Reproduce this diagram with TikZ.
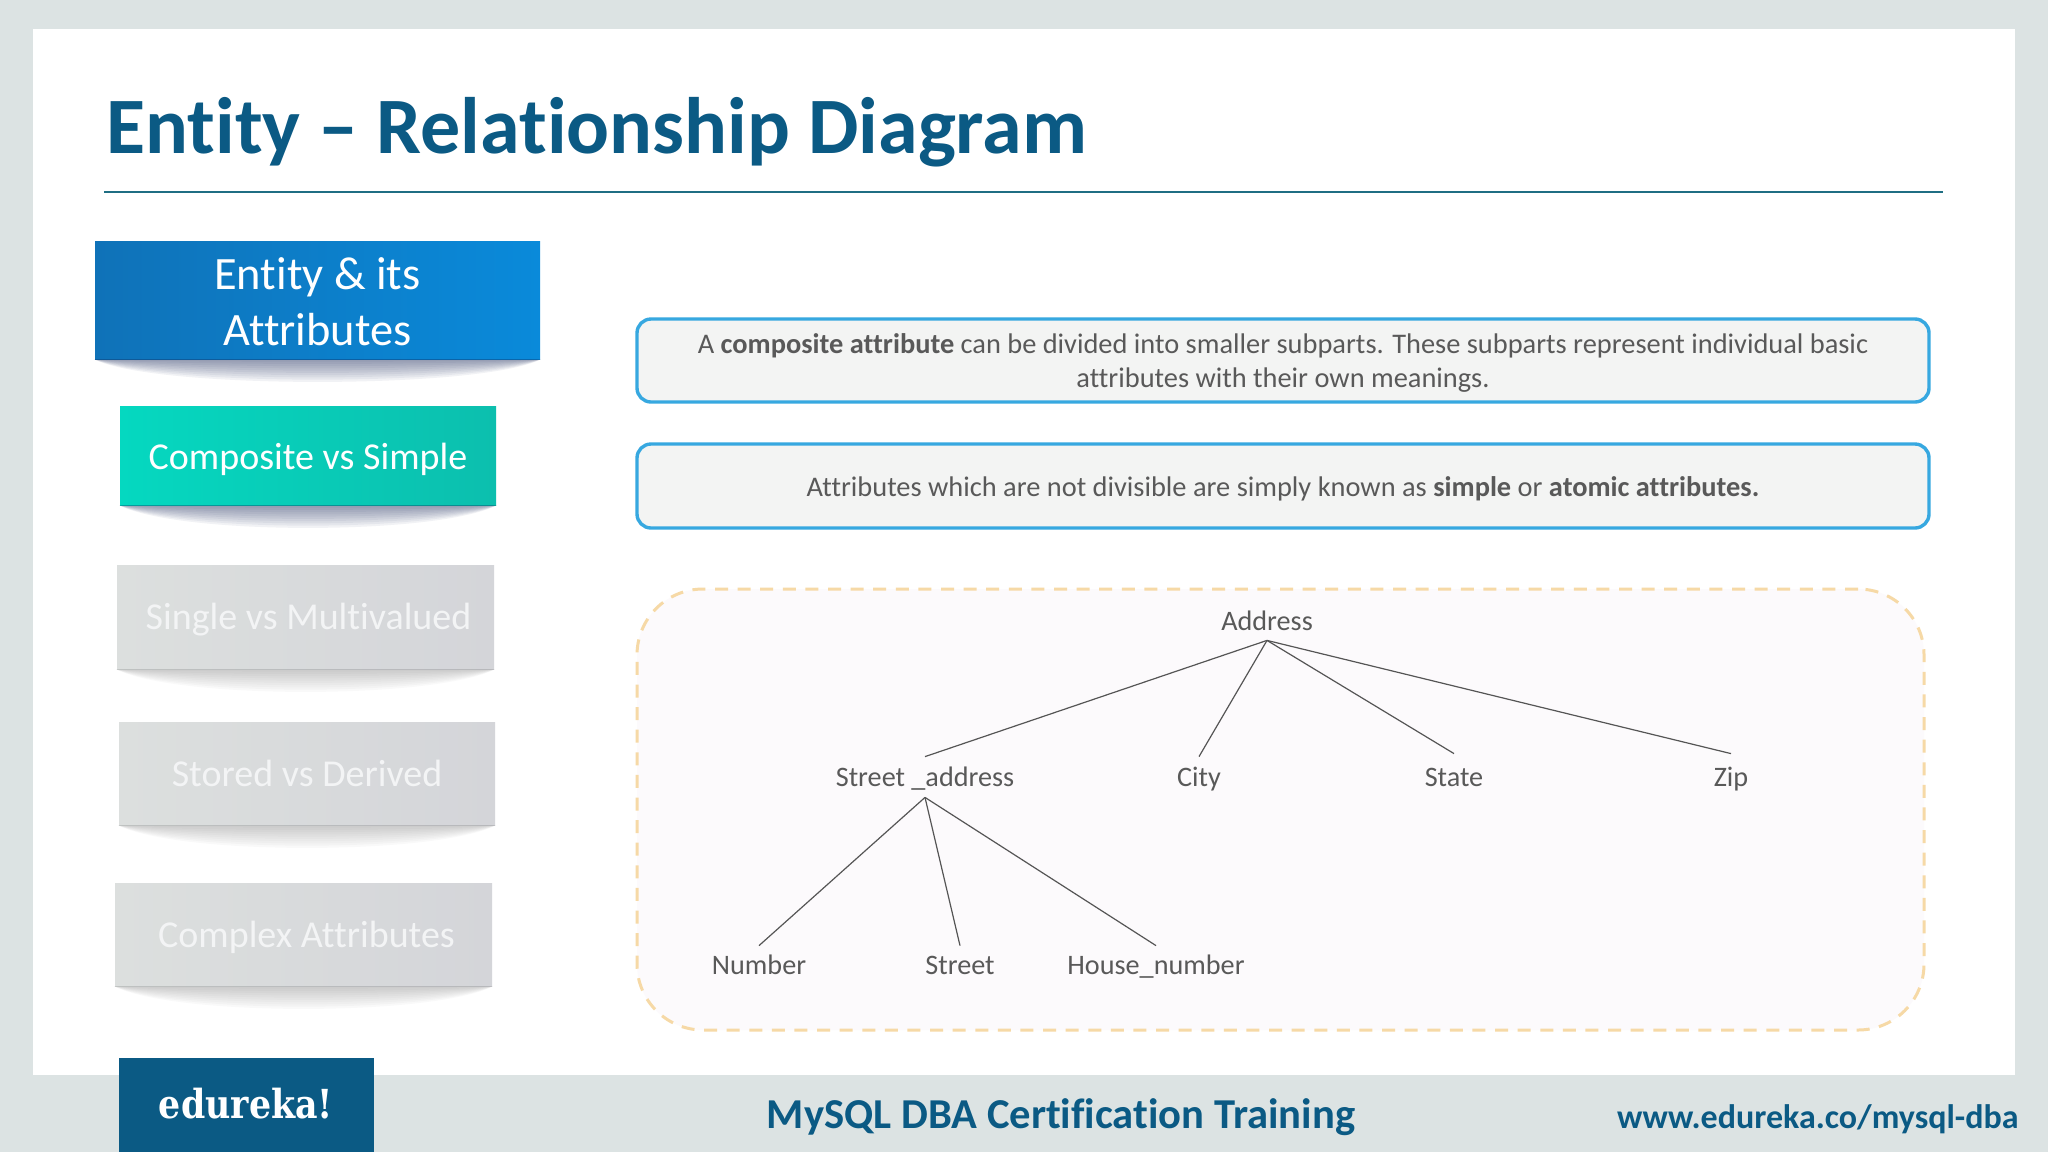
\documentclass[tikz,border=0pt]{standalone}
\usepackage{fontspec}
\setmainfont{Carlito}[Ligatures=NoCommon]
\newfontfamily\edufont{DejaVu Serif}
\definecolor{pagebg}{HTML}{DCE3E3}
\definecolor{deep}{HTML}{0B5A84}
\definecolor{bodytxt}{HTML}{595959}
\definecolor{edge}{HTML}{37A8E0}
\definecolor{infofill}{HTML}{F3F4F3}
\definecolor{dashc}{HTML}{F6D9A6}
\definecolor{dashfill}{HTML}{FCFAFC}
\definecolor{rulec}{HTML}{1F6E83}
\definecolor{treeline}{HTML}{555555}
\definecolor{blueL}{HTML}{0F72B8}
\definecolor{blueR}{HTML}{0A8ADA}
\definecolor{tealL}{HTML}{05D8C0}
\definecolor{tealR}{HTML}{0CBFAE}
\definecolor{greyL}{HTML}{DCDFDE}
\definecolor{greyR}{HTML}{D4D5D9}
\definecolor{fadedtext}{HTML}{F3F4F5}
\definecolor{shadowblue}{HTML}{1F2F60}
\definecolor{shadowgrey}{HTML}{555555}
\newcommand{\boxshadow}[3]{%
  \foreach \d in {1.5,3,...,15}{%
    \fill[#2, fill opacity=#3]
      (#1.south west) .. controls ([xshift=30pt,yshift=-\d pt]#1.south west)
      and ([xshift=-30pt,yshift=-\d pt]#1.south east) .. (#1.south east) -- cycle;}}
\newcommand{\lowered}[2]{\raisebox{-#1}[\height][\depth]{#2}}
\tikzset{
  tab/.style={rectangle, inner sep=0pt, align=center, text=white, draw=none},
  greytab/.style={tab, left color=greyL, right color=greyR, text=fadedtext, font=\fontsize{19}{22}\selectfont},
  info/.style={rectangle, rounded corners=7pt, draw=edge, line width=1.7pt, fill=infofill,
    text=bodytxt, align=center, inner sep=0pt, minimum width=646pt,
    font=\fontsize{14.2}{17}\selectfont},
  attr/.style={rectangle, inner sep=0pt, minimum height=19pt, text height=12pt, text depth=2.6pt, text=bodytxt,
    font=\fontsize{14.1}{17}\selectfont},
  link/.style={draw=treeline, line width=0.6pt},
}
\begin{document}
\begin{tikzpicture}[x=0.5pt,y=-0.5pt]
\useasboundingbox (0,0) rectangle (2048,1152);
\fill[pagebg] (0,0) rectangle (2048,1152);
\fill[white] (33,29) rectangle (2015,1075);

\node[anchor=west, inner sep=0pt, text=deep, font=\fontsize{40}{46}\selectfont\bfseries] (title) at (106,132) {Entity – Relationship Diagram};
\coordinate (ruleL) at (104,192);
\coordinate (ruleR) at (1943,192);
\draw[rulec, line width=0.9pt] (ruleL) -- (ruleR);

\node[tab, left color=blueL, right color=blueR, minimum width=222.5pt, minimum height=59pt, font=\fontsize{23.2}{28}\selectfont] (t1) at (317.5,300) {\lowered{0.7pt}{Entity \& its}\\\lowered{0.7pt}{Attributes}};
\node[tab, left color=tealL, right color=tealR, minimum width=188pt, minimum height=49.5pt, font=\fontsize{19}{22}\selectfont] (t2) at (308,455.5) {\lowered{2pt}{Composite vs Simple}};
\node[greytab, minimum width=188.5pt, minimum height=52pt] (t3) at (305.5,617) {\lowered{1.5pt}{\hspace*{3pt}Single vs Multivalued}};
\node[greytab, minimum width=188pt, minimum height=51.5pt] (t4) at (307,773.5) {Stored vs Derived};
\node[greytab, minimum width=188.5pt, minimum height=51.5pt] (t5) at (303.5,934.5) {\lowered{1.3pt}{\hspace*{3pt}Complex Attributes}};
\boxshadow{t1}{shadowblue}{0.06}
\boxshadow{t2}{shadowblue}{0.06}
\boxshadow{t3}{shadowgrey}{0.03}
\boxshadow{t4}{shadowgrey}{0.03}
\boxshadow{t5}{shadowgrey}{0.03}

\node[info, minimum height=41.5pt] (i1) at (1283,360.5) {\lowered{1.3pt}{A \textbf{composite attribute} can be divided into smaller subparts. These subparts represent individual basic}\\\lowered{1.3pt}{attributes with their own meanings.}};
\node[info, minimum height=42pt] (i2) at (1283,486) {\lowered{1.3pt}{Attributes which are not divisible are simply known as \textbf{simple} or \textbf{atomic attributes.}}};

\node[rectangle, rounded corners=33pt, draw=dashc, fill=dashfill, line width=1.5pt, dash pattern=on 6.5pt off 4.8pt, minimum width=643.5pt, minimum height=220.5pt, inner sep=0pt] (panel) at (1280.5,809.5) {};

\node[attr] (address) at (1267,621) {Address};
\node[attr, minimum height=20pt] (street) at (925,777) {Street \_address};
\node[attr, minimum height=20pt] (city) at (1199,777) {City};
\node[attr, minimum height=23pt] (state) at (1454,777) {State};
\node[attr, minimum height=23pt] (zip) at (1731,777) {Zip};
\node[attr] (number) at (759,965) {Number};
\node[attr] (str) at (960,965) {Street};
\node[attr] (house) at (1156,965) {House\_number};
\draw[link] (address.south) -- (street.north);
\draw[link] (address.south) -- (city.north);
\draw[link] (address.south) -- (state.north);
\draw[link] (address.south) -- (zip.north);
\draw[link] (street.south) -- (number.north);
\draw[link] (street.south) -- (str.north);
\draw[link] (street.south) -- (house.north);

\path[fill=deep] (119,1058) rectangle (374,1152);
\node[inner sep=0pt, text=white, font=\fontsize{20}{24}\edufont\bfseries] (logo) at (246,1104) {\scalebox{0.87}[1]{edureka!}};
\node[inner sep=0pt, text=deep, font=\fontsize{21.3}{26}\selectfont\bfseries] (course) at (1061,1117) {MySQL DBA Certification Training};
\node[anchor=east, inner sep=0pt, text=deep, font=\fontsize{17}{22}\selectfont\bfseries] (site) at (2019,1119) {www.edureka.co/mysql-dba};
\end{tikzpicture}
\end{document}
